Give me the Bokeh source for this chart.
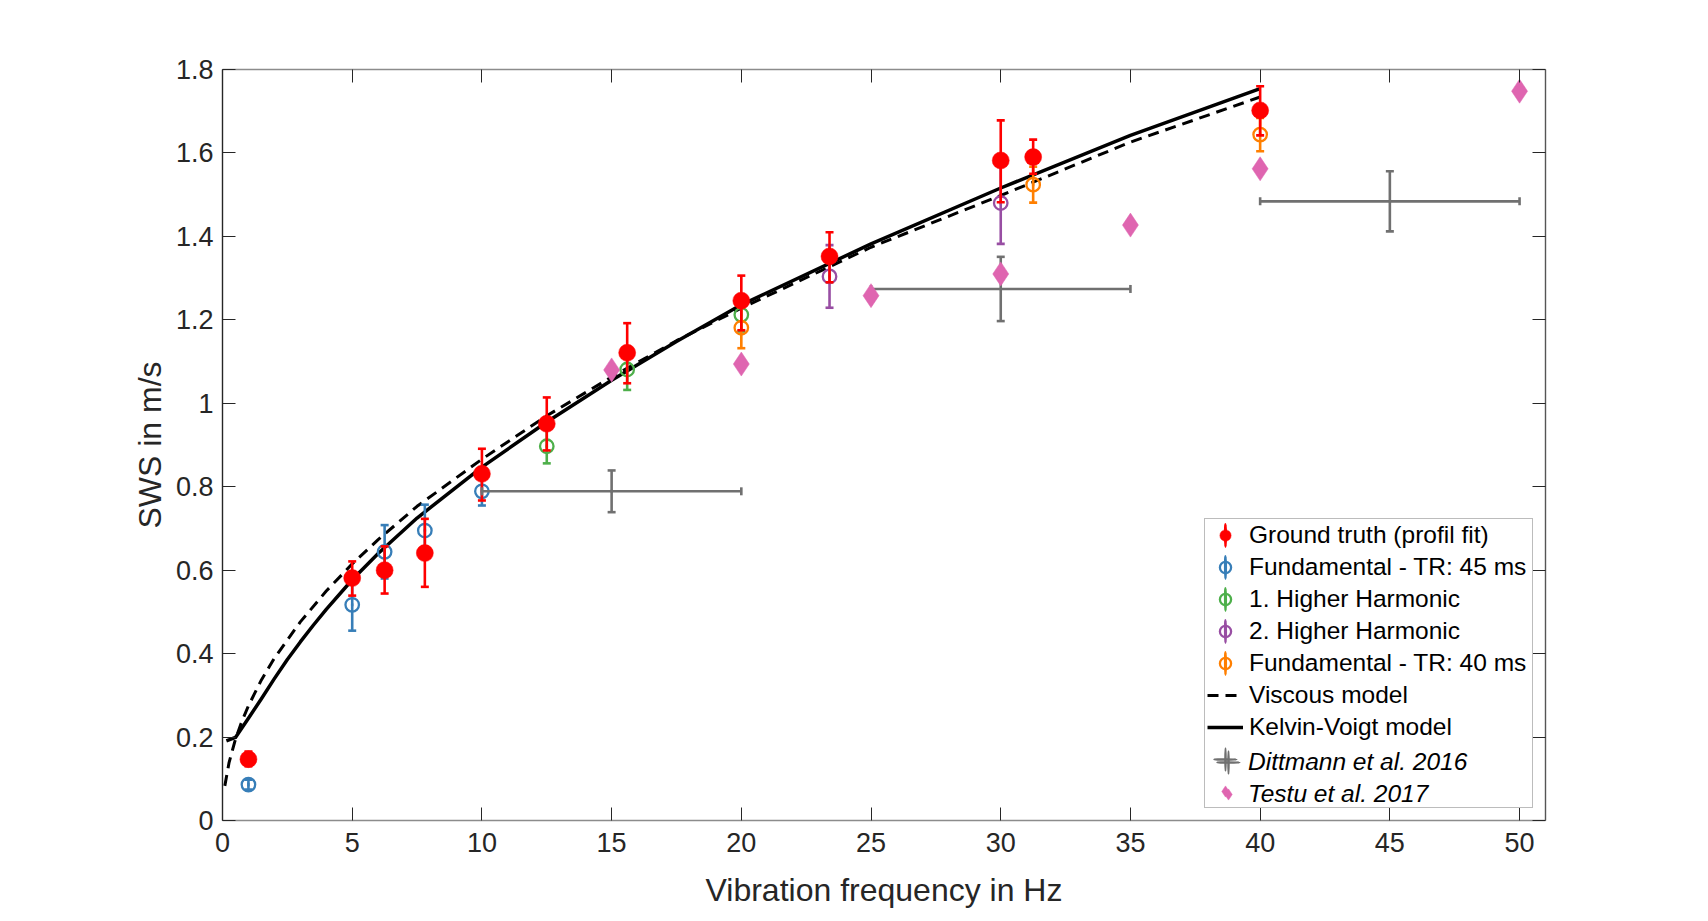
from bokeh.plotting import figure
from bokeh.models import Range1d, FixedTicker, LinearAxis, Legend, LegendItem, ColumnDataSource
from bokeh.embed import file_html
from bokeh.resources import INLINE
from bokeh.core.properties import value
import math

# ---------------- data ----------------
x_ticks = [0, 5, 10, 15, 20, 25, 30, 35, 40, 45, 50]
x_tick_labels = ["0", "5", "10", "15", "20", "25", "30", "35", "40", "45", "50"]
y_ticks = [0, 0.2, 0.4, 0.6, 0.8, 1.0, 1.2, 1.4, 1.6, 1.8]
y_tick_labels = ["0", "0.2", "0.4", "0.6", "0.8", "1", "1.2", "1.4", "1.6", "1.8"]

# Ground truth (profil fit)
gt_freq = [1.0, 5.0, 6.25, 7.8, 10.0, 12.5, 15.6, 20.0, 23.4, 30.0, 31.25, 40.0]
gt_sws = [0.147, 0.581, 0.600, 0.641, 0.831, 0.951, 1.121, 1.246, 1.352, 1.582, 1.590, 1.702]
gt_upper = [0.165, 0.621, 0.657, 0.723, 0.891, 1.014, 1.192, 1.306, 1.410, 1.678, 1.632, 1.760]
gt_lower = [0.130, 0.539, 0.544, 0.560, 0.767, 0.887, 1.048, 1.175, 1.290, 1.482, 1.550, 1.642]

# Fundamental - TR: 45 ms
f45_freq = [1.0, 5.0, 6.25, 7.8, 10.0]
f45_sws = [0.086, 0.517, 0.644, 0.695, 0.789]
f45_err = [0.012, 0.062, 0.064, 0.062, 0.034]

# 1. Higher Harmonic
h1_freq = [12.5, 15.6, 20.0]
h1_sws = [0.897, 1.081, 1.212]
h1_err = [0.041, 0.049, 0.040]

# 2. Higher Harmonic
h2_freq = [23.4, 30.0]
h2_sws = [1.304, 1.480]
h2_err = [0.075, 0.098]

# Fundamental - TR: 40 ms
f40_freq = [20.0, 31.25, 40.0]
f40_sws = [1.181, 1.524, 1.644]
f40_err = [0.049, 0.043, 0.040]

# Viscous model (dashed)
visc_freq = [0.09, 0.25, 0.5, 0.75, 1, 1.5, 2, 3, 4, 5, 6, 7.5, 10, 12.5, 15, 17.5, 20, 25, 30, 35, 40]
visc_sws = [0.083, 0.138, 0.195, 0.238, 0.275, 0.337, 0.389, 0.476, 0.55, 0.615, 0.673, 0.753, 0.866,
            0.97, 1.063, 1.15, 1.228, 1.374, 1.498, 1.626, 1.734]

# Kelvin-Voigt model (solid)
kv_freq = [0.15, 0.5, 1, 1.5, 2, 2.5, 3, 3.5, 4, 5, 6, 7.5, 10, 12.5, 15, 17.5, 20, 25, 30, 35, 40]
kv_sws = [0.191, 0.199, 0.245, 0.292, 0.340, 0.386, 0.428, 0.468, 0.506, 0.577, 0.640, 0.725, 0.847,
          0.955, 1.055, 1.148, 1.236, 1.382, 1.516, 1.642, 1.754]

# Dittmann et al. 2016
dit_freq = [15.0, 30.0, 45.0]
dit_freq_err = [5.0, 5.0, 5.0]
dit_sws = [0.789, 1.274, 1.484]
dit_sws_err = [0.050, 0.077, 0.072]

# Testu et al. 2017
tes_freq = [15.0, 20.0, 25.0, 30.0, 35.0, 40.0, 50.0]
tes_sws = [1.080, 1.094, 1.258, 1.310, 1.427, 1.562, 1.748]

# ---------------- styling ----------------
FONT = "Liberation Sans"
TXT = "#262626"
RED = "#FF0000"
BLUE = "#377EB8"
GREEN = "#4DAF4A"
PURPLE = "#984EA3"
ORANGE = "#FF7F00"
GRAY = "#707070"
PINK = "#DF65B0"

p = figure(frame_width=1323, frame_height=751,
           min_border_left=222, min_border_top=69, min_border_right=160, min_border_bottom=98,
           x_range=Range1d(0, 51), y_range=Range1d(0, 1.8),
           output_backend="svg", toolbar_location=None,
           x_axis_label="Vibration frequency in Hz", y_axis_label="SWS in m/s")
p.grid.visible = False
p.outline_line_color = None
p.background_fill_color = "white"
p.border_fill_color = "white"

xt = FixedTicker(ticks=x_ticks)
yt = FixedTicker(ticks=y_ticks)


def style_axis(ax, ticker, labels, line_color, show_labels, ticks):
    ax.ticker = ticker
    ax.major_tick_in = 13
    ax.major_tick_out = 0
    ax.minor_tick_in = 0
    ax.minor_tick_out = 0
    ax.major_tick_line_color = TXT
    ax.major_tick_line_width = 1
    ax.axis_line_color = line_color
    ax.axis_line_width = 1.4
    if show_labels:
        ax.major_label_overrides = {t: l for t, l in zip(ticks, labels)}
    else:
        ax.major_label_overrides = {t: "" for t in ticks}
    ax.major_label_text_font = FONT
    ax.major_label_text_font_size = "27px"
    ax.major_label_text_color = TXT
    ax.axis_label_text_font = FONT
    ax.axis_label_text_font_size = "32px"
    ax.axis_label_text_font_style = "normal"
    ax.axis_label_text_color = TXT


style_axis(p.xaxis[0], xt, x_tick_labels, "#8c8c8c", True, x_ticks)
style_axis(p.yaxis[0], yt, y_tick_labels, "#262626", True, y_ticks)
p.xaxis[0].major_label_standoff = 12
p.xaxis[0].axis_label_standoff = 17
p.yaxis[0].major_label_standoff = 9
p.yaxis[0].axis_label_standoff = 5

top = LinearAxis()
style_axis(top, xt, x_tick_labels, "#8c8c8c", False, x_ticks)
p.add_layout(top, "above")
right = LinearAxis()
style_axis(right, yt, y_tick_labels, "#555555", False, y_ticks)
p.add_layout(right, "right")

# ---------------- model curves ----------------
visc_r = p.line(visc_freq, visc_sws, line_color="black", line_width=3, line_dash="11 7",
                line_join="round")
kv_r = p.line(kv_freq, kv_sws, line_color="black", line_width=3.5, line_join="round")


def vbars(xs, lo, hi, color, lw=2.6, cap=8):
    src = ColumnDataSource(dict(x=xs, lo=lo, hi=hi))
    p.segment(x0="x", y0="lo", x1="x", y1="hi", source=src, line_color=color, line_width=lw)
    p.scatter(x="x", y="lo", marker="dash", size=cap, line_color=color, line_width=lw, source=src)
    p.scatter(x="x", y="hi", marker="dash", size=cap, line_color=color, line_width=lw, source=src)


def stem_key(xs, ys, color, w=0.05, h=2.0, lw=2.6):
    # hairline ellipse at the centre of each point (hidden under the error-bar stem);
    # its legend glyph is a vertical bar that stands for the error bar in the key
    return p.ellipse(xs, ys, width=w, height=h, width_units="screen", height_units="screen",
                     fill_color=None, line_color=color, line_width=lw)


def open_series(xs, ys, err, color):
    vbars(xs, [a - b for a, b in zip(ys, err)], [a + b for a, b in zip(ys, err)], color)
    key = stem_key(xs, ys, color)
    r = p.scatter(xs, ys, marker="circle", size=13.5, fill_color=None, line_color=color, line_width=2.3)
    return r, key


b_r, b_leg = open_series(f45_freq, f45_sws, f45_err, BLUE)
g_r, g_leg = open_series(h1_freq, h1_sws, h1_err, GREEN)
pu_r, pu_leg = open_series(h2_freq, h2_sws, h2_err, PURPLE)
o_r, o_leg = open_series(f40_freq, f40_sws, f40_err, ORANGE)

vbars(gt_freq, gt_lower, gt_upper, RED)
red_leg = stem_key(gt_freq, gt_sws, RED)
red_r = p.scatter(gt_freq, gt_sws, marker="circle", size=17, fill_color=RED, line_color=RED, line_width=0.5)

# Dittmann error crosses
dsrc = ColumnDataSource(dict(
    x=dit_freq, y=dit_sws,
    xl=[a - b for a, b in zip(dit_freq, dit_freq_err)], xh=[a + b for a, b in zip(dit_freq, dit_freq_err)],
    yl=[a - b for a, b in zip(dit_sws, dit_sws_err)], yh=[a + b for a, b in zip(dit_sws, dit_sws_err)]))
p.segment(x0="xl", y0="y", x1="xh", y1="y", source=dsrc, line_color=GRAY, line_width=2.6)
p.segment(x0="x", y0="yl", x1="x", y1="yh", source=dsrc, line_color=GRAY, line_width=2.6)
p.scatter(x="x", y="yl", marker="dash", size=8, line_color=GRAY, line_width=2.6, source=dsrc)
p.scatter(x="x", y="yh", marker="dash", size=8, line_color=GRAY, line_width=2.6, source=dsrc)
p.scatter(x="xl", y="y", marker="dash", angle=math.pi / 2, size=8, line_color=GRAY, line_width=2.6, source=dsrc)
p.scatter(x="xh", y="y", marker="dash", angle=math.pi / 2, size=8, line_color=GRAY, line_width=2.6, source=dsrc)
dit_leg_v = stem_key(dit_freq, dit_sws, GRAY, lw=2.0)
dit_leg_h = stem_key(dit_freq, dit_sws, GRAY, w=2.0, h=0.05, lw=2.0)

tes_r = p.scatter(tes_freq, tes_sws, marker="diamond", size=24, fill_color=PINK, line_color=PINK, line_width=0.5)

# ---------------- legend ----------------
items_a = [
    LegendItem(label=value("Ground truth (profil fit)"), renderers=[red_leg, red_r]),
    LegendItem(label=value("Fundamental - TR: 45 ms"), renderers=[b_leg, b_r]),
    LegendItem(label=value("1. Higher Harmonic"), renderers=[g_leg, g_r]),
    LegendItem(label=value("2. Higher Harmonic"), renderers=[pu_leg, pu_r]),
    LegendItem(label=value("Fundamental - TR: 40 ms"), renderers=[o_leg, o_r]),
    LegendItem(label=value("Viscous model"), renderers=[visc_r]),
    LegendItem(label=value("Kelvin-Voigt model"), renderers=[kv_r]),
    LegendItem(label=value(" "), renderers=[dit_leg_v, dit_leg_h]),
    LegendItem(label=value(" "), renderers=[tes_r]),
]
items_b = [
    LegendItem(label=value("Dittmann et al. 2016"), renderers=[dit_leg_v, dit_leg_h]),
    LegendItem(label=value("Testu et al. 2017"), renderers=[tes_r]),
]


def make_legend(items, style, bordered, standoff, lwidth):
    lg = Legend(items=items, location="bottom_right", margin=12, padding=2, spacing=4,
                glyph_height=28, glyph_width=36, label_height=28, label_width=lwidth,
                label_standoff=standoff,
                label_text_font=FONT, label_text_font_size="24.5px",
                label_text_font_style=style, label_text_color="black")
    if bordered:
        lg.border_line_color = "#7a7a7a"
        lg.border_line_width = 1
        lg.background_fill_color = "white"
        lg.background_fill_alpha = 1
    else:
        lg.border_line_color = None
        lg.background_fill_alpha = 0
    return lg


p.add_layout(make_legend(items_a, "normal", True, 6, 281), "center")
p.add_layout(make_legend(items_b, "italic", False, 2, 285), "center")

with open("out.html", "w") as fh:
    fh.write(file_html(p, INLINE))
